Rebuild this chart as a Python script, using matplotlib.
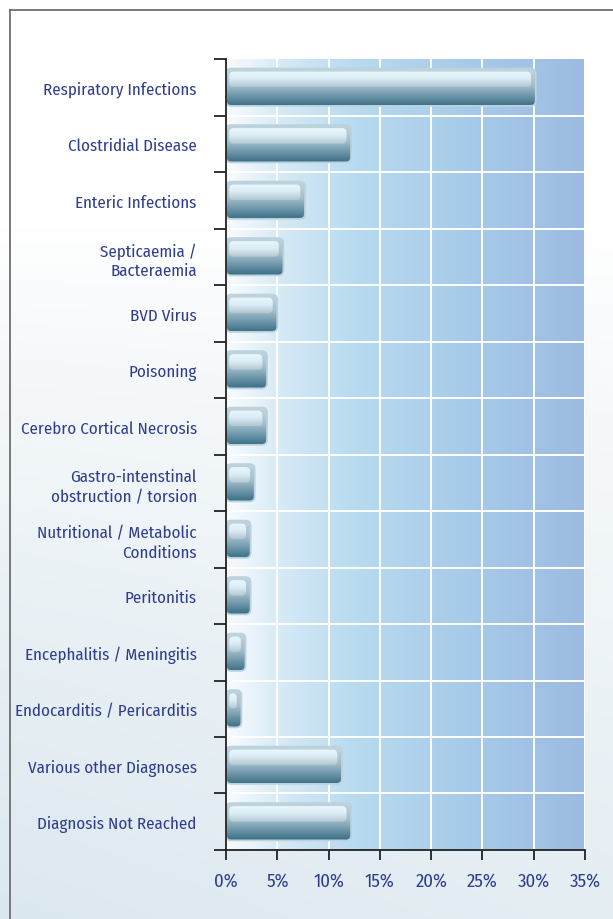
import matplotlib
matplotlib.use('Agg')
import matplotlib.pyplot as plt
import numpy as np
from matplotlib.patches import FancyBboxPatch
from matplotlib.colors import LinearSegmentedColormap
from matplotlib.ticker import FixedLocator

categories = [
    "Respiratory Infections",
    "Clostridial Disease",
    "Enteric Infections",
    "Septicaemia /\nBacteraemia",
    "BVD Virus",
    "Poisoning",
    "Cerebro Cortical Necrosis",
    "Gastro-intenstinal\nobstruction / torsion",
    "Nutritional / Metabolic\nConditions",
    "Peritonitis",
    "Encephalitis / Meningitis",
    "Endocarditis / Pericarditis",
    "Various other Diagnoses",
    "Diagnosis Not Reached",
]
values = [30.2, 12.2, 7.7, 5.6, 5.0, 4.0, 4.0, 2.8, 2.4, 2.4, 1.9, 1.5, 11.3, 12.2]
xticks = [0, 5, 10, 15, 20, 25, 30, 35]
xticklabels = [f"{t}%" for t in xticks]

label_color = "#2f3d8f"
font = ['Fira Sans Condensed', 'DejaVu Sans']

fig = plt.figure(figsize=(6.13, 9.2), dpi=100)

# page background: white at top, pale blue-grey towards the bottom
bg = fig.add_axes([0, 0, 1, 1], zorder=-10)
bg.axis('off')
yy = np.linspace(0, 1, 300)[:, None]
xx = np.linspace(0, 1, 300)[None, :]
shade = np.clip((0.75 - yy) / 0.75, 0, 1) ** 0.8 * (1 - 0.25 * xx)
bgcmap = LinearSegmentedColormap.from_list("page", ["#ffffff", "#dce8ef"])
bg.imshow(shade, cmap=bgcmap, extent=[0, 1, 0, 1], aspect='auto', origin='lower')
bg.set_xlim(0, 1)
bg.set_ylim(0, 1)
# frame lines top / left
bg.plot([10 / 613, 1], [1 - 11 / 920, 1 - 11 / 920], color="#6f6f6f", lw=1.3)
bg.plot([10 / 613, 10 / 613], [0, 1 - 11 / 920], color="#6f6f6f", lw=1.3)

ax = fig.add_axes([226 / 613, 1 - 851 / 920, (585 - 226) / 613, (851 - 60) / 920])
n = len(categories)

# plot-area gradient
grad = np.linspace(0, 1, 300)[None, :]
plotcmap = LinearSegmentedColormap.from_list(
    "plot", [(0, "#f8fbfe"), (0.15, "#d6eaf6"), (0.35, "#b9dbf0"), (0.7, "#a6c9e9"), (1, "#9dbbe2")])
ax.imshow(np.repeat(grad, 20, axis=0), cmap=plotcmap, extent=[0, 35, n, 0],
          aspect='auto', zorder=0)

for t in xticks[1:]:
    ax.axvline(t, color="white", lw=1.4, zorder=1)
for b in range(1, n):
    ax.axhline(b, color="white", lw=1.4, zorder=1)

ypos = np.arange(n) + 0.5
bars = ax.barh(ypos, values, height=0.66, color="none", zorder=2)

bodycmap = LinearSegmentedColormap.from_list(
    "body", [(0, "#c3d7e0"), (0.45, "#a3bfcc"), (0.6, "#86a9ba"), (1, "#3b6f86")])
hicmap = LinearSegmentedColormap.from_list("hi", [(0, "#eaf7fd"), (0.45, "#dcedf5"), (1, "#b3c7d1")])
aspect = (35 / 359) / (n / 791)
for rect in bars:
    x0, y0 = rect.get_x(), rect.get_y()
    w, h = rect.get_width(), rect.get_height()
    body = FancyBboxPatch((x0, y0), w, h, boxstyle="round,pad=0,rounding_size=0.5",
                          mutation_aspect=1 / aspect, facecolor="none",
                          edgecolor="#bcd2dc", lw=1.3, zorder=3)
    ax.add_patch(body)
    im = ax.imshow(np.linspace(0, 1, 100)[:, None], cmap=bodycmap,
                   extent=[x0, x0 + w, y0 + h, y0], aspect='auto', zorder=2.5)
    im.set_clip_path(body)
    # glossy highlight in the upper part
    hx0 = x0 + 0.3
    hw = max(w - 0.75, 0.3)
    hy0 = y0 + h * 0.08
    hh = h * 0.42
    hl = FancyBboxPatch((hx0, hy0), hw, hh, boxstyle="round,pad=0,rounding_size=0.45",
                        mutation_aspect=1 / aspect, facecolor="none", edgecolor="none", zorder=2.6)
    ax.add_patch(hl)
    im2 = ax.imshow(np.linspace(0, 1, 100)[:, None], cmap=hicmap,
                    extent=[hx0, hx0 + hw, hy0 + hh, hy0], aspect='auto', zorder=2.6)
    im2.set_clip_path(hl)

ax.set_xlim(0, 35)
ax.set_ylim(n, 0)

ax.set_yticks(ypos)
ax.set_yticklabels(categories, fontsize=12.2, color=label_color, family=font,
                   multialignment='right', linespacing=1.3)
ax.yaxis.set_minor_locator(FixedLocator(np.arange(0, n + 1)))
ax.tick_params(axis='y', which='major', length=0, pad=21)
ax.tick_params(axis='y', which='minor', length=8.5, width=1.3, color="#222222")

ax.set_xticks(xticks)
ax.set_xticklabels(xticklabels, fontsize=13.5, color=label_color, family=font)
ax.tick_params(axis='x', which='major', length=7.5, width=1.3, color="#222222", pad=8)

for s in ['top', 'right']:
    ax.spines[s].set_visible(False)
for s in ['left', 'bottom']:
    ax.spines[s].set_color("#222222")
    ax.spines[s].set_linewidth(1.3)
    ax.spines[s].set_zorder(5)

fig.savefig("out.png", dpi=100)
